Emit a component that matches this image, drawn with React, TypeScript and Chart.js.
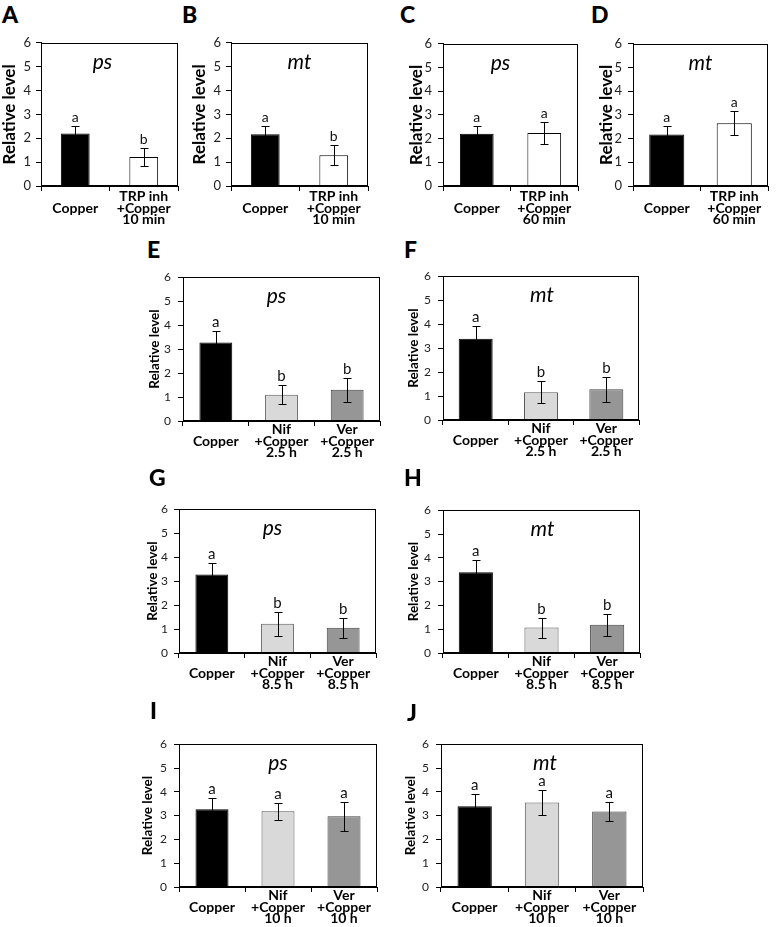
import React, { useEffect, useRef } from "react";
import { Chart, registerables } from "chart.js";
Chart.register(...registerables);

const FONT = "Lato, 'Open Sans', sans-serif";

// ---------- categories ----------
const catsTRP10 = [["", "Copper"], ["TRP inh", "+Copper", "10 min"]];
const catsTRP60 = [["", "Copper"], ["TRP inh", "+Copper", "60 min"]];
const cats25 = [["", "Copper"], ["Nif", "+Copper", "2.5 h"], ["Ver", "+Copper", "2.5 h"]];
const cats85 = [["", "Copper"], ["Nif", "+Copper", "8.5 h"], ["Ver", "+Copper", "8.5 h"]];
const cats10 = [["", "Copper"], ["Nif", "+Copper", "10 h"], ["Ver", "+Copper", "10 h"]];

// ---------- y axis ----------
const yMin = 0;
const yMax = 6;
const yStep = 1;
const yTitle = "Relative level";

// ---------- values (mean, error, significance letters) ----------
const psTRP10 = [2.2, 1.22];
const psTRP10Err = [0.33, 0.37];
const psTRP10Sig = ["a", "b"];

const mtTRP10 = [2.17, 1.29];
const mtTRP10Err = [0.35, 0.42];
const mtTRP10Sig = ["a", "b"];

const psTRP60 = [2.2, 2.24];
const psTRP60Err = [0.33, 0.46];
const psTRP60Sig = ["a", "a"];

const mtTRP60 = [2.17, 2.65];
const mtTRP60Err = [0.37, 0.5];
const mtTRP60Sig = ["a", "a"];

const ps25 = [3.28, 1.1, 1.3];
const ps25Err = [0.49, 0.41, 0.5];
const ps25Sig = ["a", "b", "b"];

const mt25 = [3.39, 1.16, 1.28];
const mt25Err = [0.52, 0.45, 0.52];
const mt25Sig = ["a", "b", "b"];

const ps85 = [3.28, 1.22, 1.05];
const ps85Err = [0.49, 0.5, 0.43];
const ps85Sig = ["a", "b", "b"];

const mt85 = [3.39, 1.07, 1.19];
const mt85Err = [0.52, 0.42, 0.46];
const mt85Sig = ["a", "b", "b"];

const ps10 = [3.27, 3.18, 2.97];
const ps10Err = [0.49, 0.37, 0.6];
const ps10Sig = ["a", "a", "a"];

const mt10 = [3.39, 3.55, 3.17];
const mt10Err = [0.52, 0.53, 0.41];
const mt10Sig = ["a", "a", "a"];

// ---------- styles ----------
const fills2 = ["#000000", "#ffffff"];
const borders2 = ["#000000", "#000000"];
const fills3 = ["#000000", "#d9d9d9", "#969696"];
const borders3 = ["#000000", "#5a5a5a", "#404040"];

type PanelDef = {
  letter: string;
  gene: string;
  cats: string[][];
  values: number[];
  errs: number[];
  sig: string[];
  fills: string[];
  borders: string[];
  left: number;
  top: number;
  right: number;
  bottom: number;
  axw: number;
  tickPad: number;
  barPct: number;
  yFont: number;
  titleFont: number;
  sigFont: number;
  xPad: number;
  titleDx: number;
  lx: number;
  ly: number;
};

const big = { yFont: 13, titleFont: 17, sigFont: 14, xPad: 0 };
const small = { yFont: 12, titleFont: 13.5, sigFont: 15, xPad: -2 };

const panels: PanelDef[] = [
  { letter: "A", gene: "ps", cats: catsTRP10, values: psTRP10, errs: psTRP10Err, sig: psTRP10Sig, fills: fills2, borders: borders2,
    left: 41, top: 40, right: 178, bottom: 186, axw: 42, tickPad: 5, barPct: 0.42, titleDx: -7, lx: 2, ly: 3, ...big },
  { letter: "B", gene: "mt", cats: catsTRP10, values: mtTRP10, errs: mtTRP10Err, sig: mtTRP10Sig, fills: fills2, borders: borders2,
    left: 231, top: 40, right: 368, bottom: 186, axw: 42, tickPad: 5, barPct: 0.42, titleDx: 0, lx: 182, ly: 3, ...big },
  { letter: "C", gene: "ps", cats: catsTRP60, values: psTRP60, errs: psTRP60Err, sig: psTRP60Sig, fills: fills2, borders: borders2,
    left: 443, top: 40, right: 578, bottom: 186, axw: 37, tickPad: 6, barPct: 0.5, titleDx: -10, lx: 400, ly: 3, ...big },
  { letter: "D", gene: "mt", cats: catsTRP60, values: mtTRP60, errs: mtTRP60Err, sig: mtTRP60Sig, fills: fills2, borders: borders2,
    left: 633, top: 40, right: 768, bottom: 186, axw: 37, tickPad: 6, barPct: 0.52, titleDx: 0, lx: 591, ly: 3, ...big },
  { letter: "E", gene: "ps", cats: cats25, values: ps25, errs: ps25Err, sig: ps25Sig, fills: fills3, borders: borders3,
    left: 183, top: 273, right: 380, bottom: 421, axw: 36, tickPad: 7, barPct: 0.5, titleDx: -5, lx: 147, ly: 238, ...small },
  { letter: "F", gene: "mt", cats: cats25, values: mt25, errs: mt25Err, sig: mt25Sig, fills: fills3, borders: borders3,
    left: 443, top: 272, right: 639, bottom: 420, axw: 37, tickPad: 7, barPct: 0.52, titleDx: 1, lx: 404, ly: 238, ...small },
  { letter: "G", gene: "ps", cats: cats85, values: ps85, errs: ps85Err, sig: ps85Sig, fills: fills3, borders: borders3,
    left: 179, top: 506, right: 376, bottom: 653, axw: 34, tickPad: 6, barPct: 0.5, titleDx: -5, lx: 149, ly: 466, ...small },
  { letter: "H", gene: "mt", cats: cats85, values: mt85, errs: mt85Err, sig: mt85Sig, fills: fills3, borders: borders3,
    left: 443, top: 506, right: 640, bottom: 653, axw: 37, tickPad: 7, barPct: 0.52, titleDx: 1, lx: 404, ly: 466, ...small },
  { letter: "I", gene: "ps", cats: cats10, values: ps10, errs: ps10Err, sig: ps10Sig, fills: fills3, borders: borders3,
    left: 179, top: 740, right: 377, bottom: 887, axw: 39, tickPad: 7, barPct: 0.5, titleDx: 0, lx: 150, ly: 699, ...small },
  { letter: "J", gene: "mt", cats: cats10, values: mt10, errs: mt10Err, sig: mt10Sig, fills: fills3, borders: borders3,
    left: 441, top: 740, right: 643, bottom: 887, axw: 38, tickPad: 7, barPct: 0.51, titleDx: 3, lx: 407, ly: 701, ...small },
];

const TOPPAD = 10;
const RIGHTPAD = 4;
const BOTTOMH = 46;

function Panel({ p }: { p: PanelDef }) {
  const ref = useRef<HTMLCanvasElement>(null);
  const w = p.axw + (p.right - p.left) + RIGHTPAD;
  const h = TOPPAD + (p.bottom - p.top) + BOTTOMH;

  useEffect(() => {
    const decor = {
      id: "decor",
      afterDatasetsDraw(chart: any) {
        const ctx = chart.ctx;
        const ys = chart.scales.y;
        const meta = chart.getDatasetMeta(0);
        ctx.save();
        ctx.strokeStyle = "#000";
        ctx.lineWidth = 1;
        p.values.forEach((v, i) => {
          const bar = meta.data[i];
          const x = Math.round(bar.x) + 0.5;
          const yt = Math.round(ys.getPixelForValue(v + p.errs[i])) + 0.5;
          const yb = Math.round(ys.getPixelForValue(v - p.errs[i])) + 0.5;
          ctx.beginPath();
          ctx.moveTo(x, yt);
          ctx.lineTo(x, yb);
          ctx.moveTo(x - 4, yt);
          ctx.lineTo(x + 4, yt);
          ctx.moveTo(x - 4, yb);
          ctx.lineTo(x + 4, yb);
          ctx.stroke();
          ctx.fillStyle = "#111";
          ctx.font = `${p.sigFont}px ${FONT}`;
          ctx.textAlign = "center";
          ctx.textBaseline = "alphabetic";
          ctx.fillText(p.sig[i], bar.x, yt - 5);
        });
        ctx.restore();
      },
      afterDraw(chart: any) {
        const ctx = chart.ctx;
        const a = chart.chartArea;
        ctx.save();
        ctx.strokeStyle = "#000";
        ctx.lineWidth = 1;
        const l = Math.round(a.left) + 0.5;
        const t = Math.round(a.top) + 0.5;
        const r = Math.round(a.right) - 0.5;
        const b = Math.round(a.bottom) - 0.5;
        ctx.strokeRect(l, t, r - l, b - t);
        ctx.fillStyle = "#000";
        ctx.font = `italic 21px ${FONT}`;
        ctx.textAlign = "center";
        ctx.textBaseline = "alphabetic";
        ctx.fillText(p.gene, (a.left + a.right) / 2 + p.titleDx, a.top + 26);
        ctx.restore();
      },
    };

    const chart = new Chart(ref.current as HTMLCanvasElement, {
      type: "bar",
      data: {
        labels: p.cats as any,
        datasets: [
          {
            data: p.values,
            backgroundColor: p.fills,
            borderColor: p.borders,
            borderWidth: 1,
            barPercentage: p.barPct,
            categoryPercentage: 1,
          },
        ],
      },
      options: {
        animation: false,
        responsive: false,
        maintainAspectRatio: false,
        devicePixelRatio: 1,
        layout: { padding: { top: TOPPAD, right: RIGHTPAD, left: 0, bottom: 0 } },
        plugins: { legend: { display: false }, tooltip: { enabled: false } },
        scales: {
          x: {
            offset: true,
            grid: { display: true, drawOnChartArea: false, offset: true, tickLength: 5, color: "#000" },
            border: { color: "#000" },
            ticks: {
              autoSkip: false,
              maxRotation: 0,
              minRotation: 0,
              padding: p.xPad,
              color: "#000",
              font: { family: FONT, size: 14, weight: "bold", lineHeight: 0.82 },
            },
            afterFit: (s: any) => {
              s.height = BOTTOMH;
            },
          },
          y: {
            min: yMin,
            max: yMax,
            grid: { display: true, drawOnChartArea: false, tickLength: 5, color: "#000" },
            border: { color: "#000" },
            ticks: {
              stepSize: yStep,
              padding: p.tickPad,
              color: "#222",
              font: { family: FONT, size: p.yFont },
            },
            title: {
              display: true,
              text: yTitle,
              color: "#000",
              padding: { top: 0, bottom: 0 },
              font: { family: FONT, size: p.titleFont, weight: "bold", lineHeight: 1.2 },
            },
            afterFit: (s: any) => {
              s.width = p.axw;
            },
          },
        },
      } as any,
      plugins: [decor],
    });
    return () => chart.destroy();
  }, []);

  return (
    <canvas
      ref={ref}
      width={w}
      height={h}
      style={{ position: "absolute", left: p.left - p.axw, top: p.top - TOPPAD, width: w, height: h }}
    />
  );
}

export default function App() {
  return (
    <div style={{ position: "absolute", left: 0, top: 0, width: 778, height: 927, background: "#fff", overflow: "hidden" }}>
      {panels.map((p) => (
        <React.Fragment key={p.letter}>
          <div
            style={{
              position: "absolute",
              left: p.lx,
              top: p.ly,
              fontFamily: FONT,
              fontWeight: 900,
              fontSize: 23,
              lineHeight: "23px",
              color: "#000",
            }}
          >
            {p.letter}
          </div>
          <Panel p={p} />
        </React.Fragment>
      ))}
    </div>
  );
}
